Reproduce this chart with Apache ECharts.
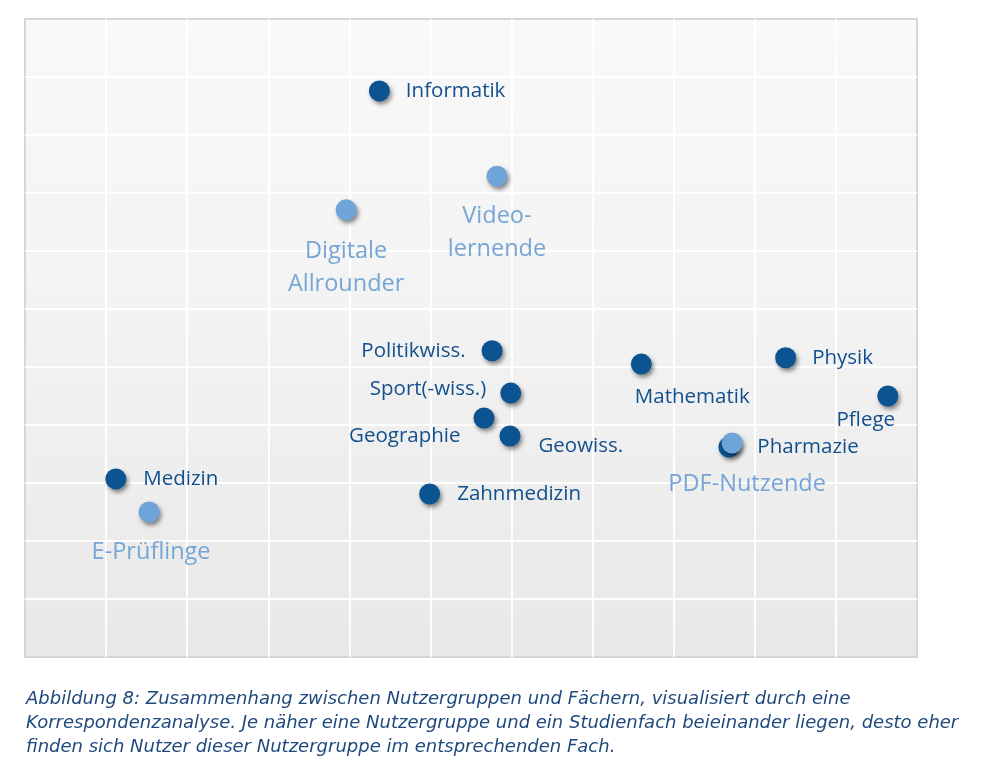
<!DOCTYPE html>
<html>
<head>
<meta charset="utf-8">
<script src="https://cdn.jsdelivr.net/npm/echarts@6/dist/echarts.min.js"></script>
<style>
html,body{margin:0;padding:0;background:#fff;}
#chart{width:992px;height:780px;}
</style>
</head>
<body>
<div id="chart"></div>
<script>
// Studienfächer (dark points)
const subjectNames = ['Informatik','Politikwiss.','Sport(-wiss.)','Geographie','Geowiss.','Zahnmedizin','Mathematik','Physik','Pflege','Pharmazie','Medizin'];
const subjectX = [4.37, 5.76, 5.99, 5.66, 5.98, 4.99, 7.60, 9.38, 10.64, 8.68, 1.12];
const subjectY = [9.76, 5.28, 4.55, 4.12, 3.81, 2.81, 5.05, 5.16, 4.50, 3.62, 3.07];

// Nutzergruppen (light points)
const groupNames = ['Video-\nlernende','Digitale\nAllrounder','PDF-Nutzende','E-Prüflinge'];
const groupX = [5.82, 3.96, 8.72, 1.53];
const groupY = [8.29, 7.71, 3.69, 2.50];

const caption = 'Abbildung 8: Zusammenhang zwischen Nutzergruppen und Fächern, visualisiert durch eine\nKorrespondenzanalyse. Je näher eine Nutzergruppe und ein Studienfach beieinander liegen, desto eher\nfinden sich Nutzer dieser Nutzergruppe im entsprechenden Fach.';

// label placement (style only)
const labelPlace = {
  'Informatik': {position:'right', distance:16},
  'Politikwiss.': {position:'left', distance:16},
  'Sport(-wiss.)': {position:'left', distance:14, offset:[0,-4]},
  'Geographie': {position:'left', distance:13, offset:[0,18]},
  'Geowiss.': {position:'right', distance:18, offset:[0,10]},
  'Zahnmedizin': {position:'right', distance:17},
  'Mathematik': {position:'bottom', distance:12, offset:[51,0]},
  'Physik': {position:'right', distance:16},
  'Pflege': {position:'bottom', distance:3, offset:[-22,0]},
  'Pharmazie': {position:'right', distance:18},
  'Medizin': {position:'right', distance:17},
  'Video-\nlernende': {position:'bottom', distance:13},
  'Digitale\nAllrounder': {position:'bottom', distance:14},
  'PDF-Nutzende': {position:'bottom', distance:14, offset:[15,0]},
  'E-Prüflinge': {position:'bottom', distance:13, offset:[2,0]}
};

function build(names, xs, ys){
  return names.map((n,i)=>({name:n, value:[xs[i], ys[i]], label:labelPlace[n]}));
}

const shadow = {opacity:1, shadowColor:'rgba(0,0,0,0.45)', shadowBlur:4, shadowOffsetX:2, shadowOffsetY:3};
const split = {show:true, showMinLine:false, showMaxLine:false, lineStyle:{color:'rgba(255,255,255,0.95)', width:2}};

const chart = echarts.init(document.getElementById('chart'));
chart.setOption({
  animation:false,
  title:{
    text:caption, left:26, top:687, padding:0,
    textStyle:{fontFamily:'DejaVu Sans', fontStyle:'italic', fontWeight:'normal', fontSize:18, color:'#1f497d', lineHeight:24}
  },
  grid:{
    left:25, top:19, width:892, height:638, show:true,
    backgroundColor:{type:'linear', x:0, y:0, x2:0, y2:1, colorStops:[{offset:0,color:'#f9f9f9'},{offset:0.5,color:'#f2f2f2'},{offset:1,color:'#e8e8e8'}]},
    borderColor:'#d6d6d6', borderWidth:2
  },
  xAxis:{type:'value', min:0, max:11, interval:1, axisLine:{show:false}, axisTick:{show:false}, axisLabel:{show:false}, splitLine:split},
  yAxis:{type:'value', min:0, max:11, interval:1, axisLine:{show:false}, axisTick:{show:false}, axisLabel:{show:false}, splitLine:split},
  series:[
    {
      name:'Studienfach', type:'scatter', symbol:'circle', symbolSize:21,
      itemStyle:Object.assign({color:'#0b5391'}, shadow),
      label:{show:true, formatter:'{b}', fontFamily:'Open Sans', fontSize:20.5, color:'#124f8d'},
      data:build(subjectNames, subjectX, subjectY)
    },
    {
      name:'Nutzergruppe', type:'scatter', symbol:'circle', symbolSize:21,
      itemStyle:Object.assign({color:'#6fa4d9'}, shadow),
      label:{show:true, formatter:'{b}', fontFamily:'Open Sans', fontSize:23.5, lineHeight:33, color:'#76a5d6', align:'center'},
      data:build(groupNames, groupX, groupY)
    }
  ]
});
</script>
</body>
</html>
